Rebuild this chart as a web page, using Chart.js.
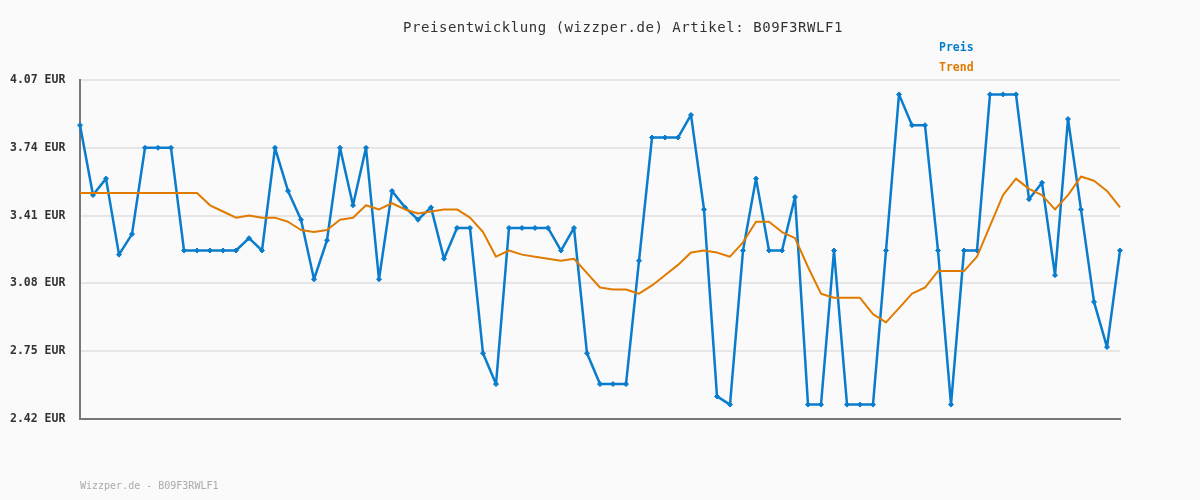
<!DOCTYPE html>
<html>
<head>
<meta charset="utf-8">
<script src="https://cdn.jsdelivr.net/npm/chart.js@4.4.1/dist/chart.umd.min.js"></script>
<style>
    body { margin: 0; background: #fafafa; }
    #wrap { position: relative; width: 1200px; height: 500px; background: #fafafa; font-family: "DejaVu Sans Mono", monospace; }
    #title { position: absolute; left: 403px; top: 19px; font-size: 14px; letter-spacing: 0.55px; color: #333; white-space: nowrap; }
    .leg { position: absolute; left: 939px; font-size: 11.5px; font-weight: bold; white-space: nowrap; }
    #footer { position: absolute; left: 80px; top: 480px; font-size: 10px; color: #aaa; white-space: nowrap; }
</style>
</head>
<body>
<div id="wrap">
    <canvas id="priceChart" width="1200" height="500"></canvas>
    <div id="title">Preisentwicklung (wizzper.de) Artikel: B09F3RWLF1</div>
    <div class="leg" style="top: 40px; color: #0a7ccc;">Preis</div>
    <div class="leg" style="top: 60px; color: #e07b00;">Trend</div>
    <div id="footer">Wizzper.de - B09F3RWLF1</div>
</div>
<script>
// price history (one value per observation)
const preis = [
    3.85, 3.51, 3.59, 3.22, 3.32, 3.74, 3.74, 3.74, 3.24, 3.24,
    3.24, 3.24, 3.24, 3.30, 3.24, 3.74, 3.53, 3.39, 3.10, 3.29,
    3.74, 3.46, 3.74, 3.10, 3.53, 3.45, 3.39, 3.45, 3.20, 3.35,
    3.35, 2.74, 2.59, 3.35, 3.35, 3.35, 3.35, 3.24, 3.35, 2.74,
    2.59, 2.59, 2.59, 3.19, 3.79, 3.79, 3.79, 3.90, 3.44, 2.53,
    2.49, 3.24, 3.59, 3.24, 3.24, 3.50, 2.49, 2.49, 3.24, 2.49,
    2.49, 2.49, 3.24, 4.00, 3.85, 3.85, 3.24, 2.49, 3.24, 3.24,
    4.00, 4.00, 4.00, 3.49, 3.57, 3.12, 3.88, 3.44, 2.99, 2.77,
    3.24
];

// moving average trend
const trend = [
    3.52, 3.52, 3.52, 3.52, 3.52, 3.52, 3.52, 3.52, 3.52, 3.52,
    3.46, 3.43, 3.40, 3.41, 3.40, 3.40, 3.38, 3.34, 3.33, 3.34,
    3.39, 3.40, 3.46, 3.44, 3.47, 3.44, 3.42, 3.43, 3.44, 3.44,
    3.40, 3.33, 3.21, 3.24, 3.22, 3.21, 3.20, 3.19, 3.20, 3.13,
    3.06, 3.05, 3.05, 3.03, 3.07, 3.12, 3.17, 3.23, 3.24, 3.23,
    3.21, 3.28, 3.38, 3.38, 3.33, 3.30, 3.16, 3.03, 3.01, 3.01,
    3.01, 2.93, 2.89, 2.96, 3.03, 3.06, 3.14, 3.14, 3.14, 3.21,
    3.36, 3.51, 3.59, 3.54, 3.51, 3.44, 3.51, 3.60, 3.58, 3.53,
    3.45
];

const yTicks = [2.42, 2.75, 3.08, 3.41, 3.74, 4.07];

const labels = preis.map((v, i) => String(i + 1));

const ctx = document.querySelector('#priceChart').getContext('2d');
const chart = new Chart(ctx, {
    type: 'line',
    data: {
        labels: labels,
        datasets: [{
            label: 'Trend',
            data: trend,
            borderColor: '#e07b00',
            borderWidth: 2,
            borderJoinStyle: 'round',
            pointRadius: 0,
            tension: 0,
            fill: false
        }, {
            label: 'Preis',
            data: preis,
            borderColor: '#0a7ccc',
            backgroundColor: '#0a7ccc',
            borderWidth: 2.5,
            borderJoinStyle: 'round',
            pointStyle: 'rectRot',
            pointRadius: 2.5,
            pointBorderWidth: 1,
            pointBorderColor: '#0a7ccc',
            pointBackgroundColor: '#0a7ccc',
            tension: 0,
            fill: false
        }]
    },
    options: {
        responsive: false,
        animation: false,
        layout: {
            padding: { left: 10, right: 80, top: 80, bottom: 81 }
        },
        scales: {
            x: {
                offset: false,
                ticks: { display: false },
                grid: { display: false, drawTicks: false },
                border: { display: true, color: '#777', width: 2 },
                afterFit: (axis) => { axis.height = 0; }
            },
            y: {
                min: 2.42,
                max: 4.07,
                afterBuildTicks: (axis) => {
                    axis.ticks = yTicks.map(v => ({ value: v }));
                },
                afterFit: (axis) => { axis.width = 70; },
                grid: {
                    color: '#e6e6e6',
                    lineWidth: 2,
                    drawTicks: false
                },
                border: { display: true, color: '#777', width: 2 },
                ticks: {
                    crossAlign: 'far',
                    color: '#333',
                    padding: 0,
                    font: { family: 'DejaVu Sans Mono', size: 11.5, weight: 'bold' },
                    callback: (value) => Number(value).toFixed(2) + ' EUR'
                }
            }
        },
        plugins: {
            legend: { display: false },
            title: { display: false },
            tooltip: { enabled: false }
        }
    }
});
</script>
</body>
</html>
